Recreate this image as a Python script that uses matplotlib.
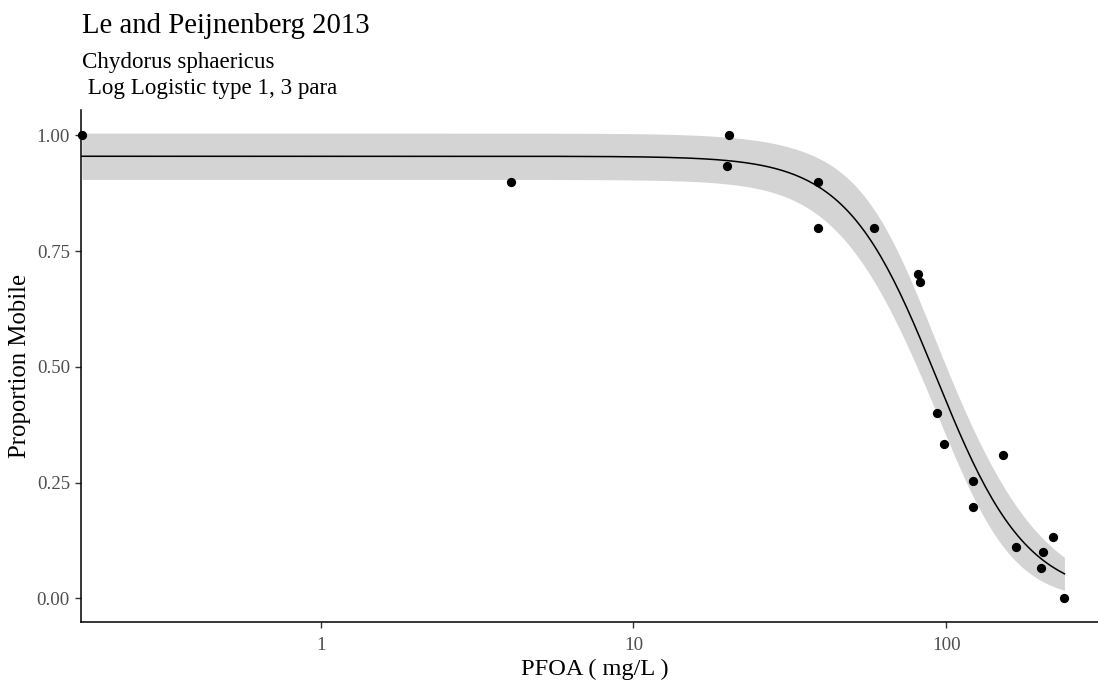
import matplotlib
matplotlib.use("Agg")
import matplotlib.pyplot as plt
import numpy as np

# observed data: concentration (mg/L) and proportion mobile
conc = [0.172, 4.06, 20.2, 19.9, 38.9, 38.9, 58.8, 81.2, 82.6, 93.8, 98.3,
        152.0, 121.7, 121.7, 167.0, 219.0, 204.0, 201.0, 239.0]
prop = [1.00, 0.90, 1.00, 0.935, 0.90, 0.80, 0.80, 0.70, 0.683, 0.40, 0.334,
        0.309, 0.253, 0.198, 0.112, 0.132, 0.101, 0.066, 0.0]

# log-logistic (LL.3) parameters
b_slope = 3.0
d_upper = 0.955
e_ec50 = 93.0
# approximate 95% half-widths of the parameters (from the band)
hw_d = 0.05
hw_lne = 0.10
hw_b = 0.68

x_ticks = [1, 10, 100]
y_ticks = [0.00, 0.25, 0.50, 0.75, 1.00]

plt.rcParams['font.family'] = ['Liberation Serif', 'DejaVu Serif']

fig = plt.figure(figsize=(10.98, 6.81), dpi=100)
ax = fig.add_axes([0.0738, 0.0866, 0.9262, 0.7526])

xg = np.logspace(np.log10(min(conc)), np.log10(max(conc)), 300)
u = b_slope * (np.log(xg) - np.log(e_ec50))
eu = np.exp(u)
fit = d_upper / (1 + eu)
dd = 1 / (1 + eu)
de = d_upper * b_slope * eu / (1 + eu) ** 2
db = -d_upper * (np.log(xg) - np.log(e_ec50)) * eu / (1 + eu) ** 2
hw = np.sqrt((dd * hw_d) ** 2 + (de * hw_lne) ** 2 + (db * hw_b) ** 2)

ax.fill_between(xg, fit - hw, fit + hw, color='#D4D4D4', linewidth=0, zorder=1)
ax.plot(xg, fit, color='black', linewidth=1.1, zorder=2)
ax.scatter(conc, prop, s=32, color='black', zorder=3, clip_on=False)

ax.set_xscale('log')
ax.set_xlim(0.171, 306)
ax.set_ylim(-0.051, 1.056)
ax.set_xticks(x_ticks)
ax.set_xticklabels([str(t) for t in x_ticks])
ax.xaxis.set_minor_locator(matplotlib.ticker.NullLocator())
ax.set_yticks(y_ticks)
ax.set_yticklabels(['%.2f' % t for t in y_ticks])

for side in ['top', 'right']:
    ax.spines[side].set_visible(False)
for side in ['left', 'bottom']:
    ax.spines[side].set_linewidth(1.1)
    ax.spines[side].set_color('black')
ax.tick_params(axis='both', length=4, width=1, color='#333333',
               labelcolor='#4D4D4D', labelsize=13.6, pad=4)
ax.tick_params(axis='x', pad=7)

ax.set_xlabel('PFOA ( mg/L )', fontsize=17.6)
ax.set_ylabel('Proportion Mobile', fontsize=17.8, labelpad=4)
ax.xaxis.set_label_coords(0.505, -0.071)

fig.text(0.0747, 0.952, 'Le and Peijnenberg 2013', fontsize=20.7, va='baseline')
fig.text(0.0747, 0.8997, 'Chydorus sphaericus', fontsize=16.6, va='baseline')
fig.text(0.0747, 0.8615, ' Log Logistic type 1, 3 para', fontsize=16.6, va='baseline')

fig.savefig('out.png', dpi=100)
